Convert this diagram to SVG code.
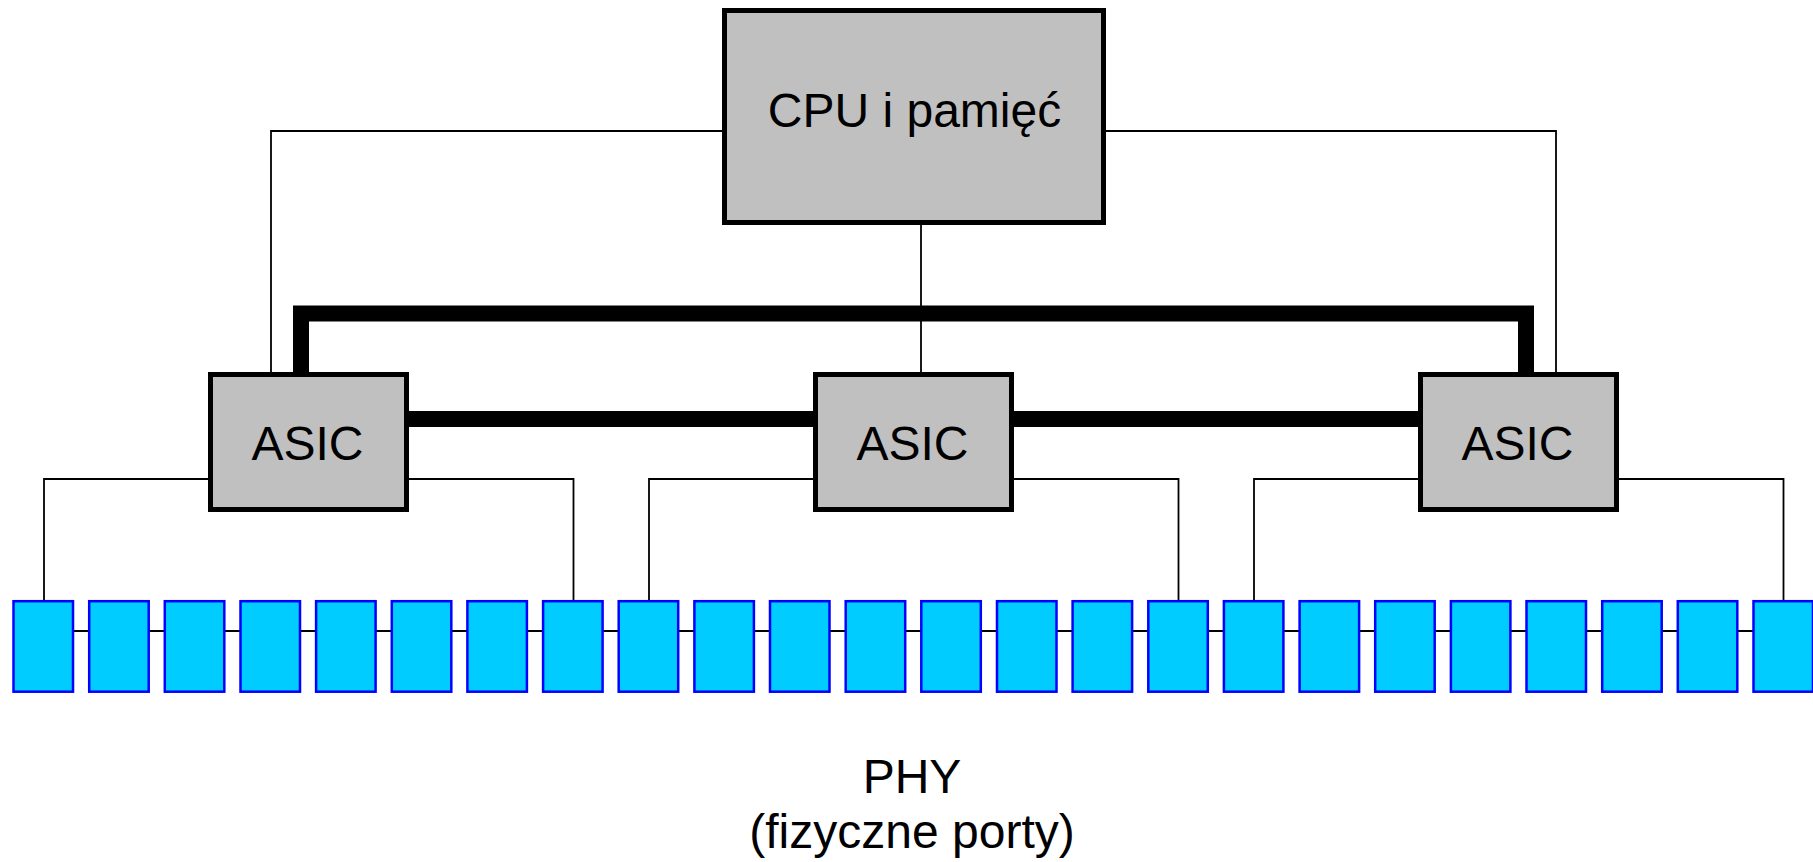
<svg xmlns="http://www.w3.org/2000/svg" width="1813" height="862" viewBox="0 0 1813 862">
<style>
.box{fill:#C0C0C0;stroke:#000;stroke-width:5}
.phy{fill:#00CCFF;stroke:#0000FF;stroke-width:2.5}
.thin{fill:none;stroke:#000;stroke-width:1.8}
.thick{fill:none;stroke:#000;stroke-width:16;stroke-linejoin:miter}
.lbl{font-family:"Liberation Sans",Arial,sans-serif;fill:#000;text-anchor:middle;font-size:48px}
</style>
<rect width="1813" height="862" fill="#fff"/>
<g id="connectors">
<path class="thin" d="M722,131 H271 V372"/>
<path class="thin" d="M1106,131 H1556 V372"/>
<path class="thin" d="M921,225 V372"/>
<path class="thick" d="M301,372 V313.5 H1526 V372"/>
<path class="thick" d="M409,419 H813 M1014,419 H1418"/>
<path class="thin" d="M208,479 H44 V600 M409,479 H573.5 V600"/>
<path class="thin" d="M813,479 H649 V600 M1014,479 H1178.5 V600"/>
<path class="thin" d="M1418,479 H1254 V600 M1619,479 H1783.5 V600"/>
<path class="thin" d="M44,631 H1813"/>
</g>
<g id="cpu">
<rect class="box" x="724.5" y="10.5" width="379" height="212"/>
<text class="lbl" x="914.5" y="127">CPU i pamięć</text>
</g>
<g id="asic1">
<rect class="box" x="210.5" y="374.5" width="196" height="135"/>
<text class="lbl" x="307.5" y="460">ASIC</text>
</g>
<g id="asic2">
<rect class="box" x="815.5" y="374.5" width="196" height="135"/>
<text class="lbl" x="912.5" y="460">ASIC</text>
</g>
<g id="asic3">
<rect class="box" x="1420.5" y="374.5" width="196" height="135"/>
<text class="lbl" x="1517.5" y="460">ASIC</text>
</g>
<g id="phy-ports">
<rect class="phy" x="13.5" y="601.2" width="59.5" height="90.5"/>
<rect class="phy" x="89.2" y="601.2" width="59.5" height="90.5"/>
<rect class="phy" x="164.8" y="601.2" width="59.5" height="90.5"/>
<rect class="phy" x="240.5" y="601.2" width="59.5" height="90.5"/>
<rect class="phy" x="316.1" y="601.2" width="59.5" height="90.5"/>
<rect class="phy" x="391.8" y="601.2" width="59.5" height="90.5"/>
<rect class="phy" x="467.4" y="601.2" width="59.5" height="90.5"/>
<rect class="phy" x="543.1" y="601.2" width="59.5" height="90.5"/>
<rect class="phy" x="618.7" y="601.2" width="59.5" height="90.5"/>
<rect class="phy" x="694.4" y="601.2" width="59.5" height="90.5"/>
<rect class="phy" x="770.0" y="601.2" width="59.5" height="90.5"/>
<rect class="phy" x="845.7" y="601.2" width="59.5" height="90.5"/>
<rect class="phy" x="921.3" y="601.2" width="59.5" height="90.5"/>
<rect class="phy" x="997.0" y="601.2" width="59.5" height="90.5"/>
<rect class="phy" x="1072.6" y="601.2" width="59.5" height="90.5"/>
<rect class="phy" x="1148.3" y="601.2" width="59.5" height="90.5"/>
<rect class="phy" x="1223.9" y="601.2" width="59.5" height="90.5"/>
<rect class="phy" x="1299.6" y="601.2" width="59.5" height="90.5"/>
<rect class="phy" x="1375.2" y="601.2" width="59.5" height="90.5"/>
<rect class="phy" x="1450.9" y="601.2" width="59.5" height="90.5"/>
<rect class="phy" x="1526.5" y="601.2" width="59.5" height="90.5"/>
<rect class="phy" x="1602.2" y="601.2" width="59.5" height="90.5"/>
<rect class="phy" x="1677.8" y="601.2" width="59.5" height="90.5"/>
<rect class="phy" x="1753.5" y="601.2" width="59.5" height="90.5"/>
</g>
<g id="phy-label">
<text class="lbl" x="912" y="793">PHY</text>
<text class="lbl" x="912" y="848">(fizyczne porty)</text>
</g>
</svg>
